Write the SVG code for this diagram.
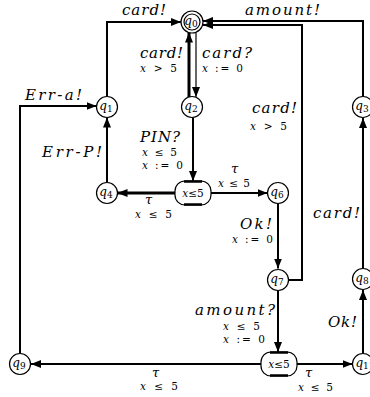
<svg xmlns="http://www.w3.org/2000/svg" width="370" height="397" viewBox="0 0 370 397">
<style>
.n{fill:#fff;stroke:#000;stroke-width:1.2}
.e{fill:none;stroke:#000;stroke-width:2}
.t{fill:none;stroke:#000;stroke-width:3}
.h{fill:none;stroke:#000;stroke-width:1.2}
.bar{stroke:#000;stroke-width:2.5}
.lbl{font-family:"DejaVu Serif",serif;font-style:italic;font-size:15px;fill:#000}
.g{font-family:"DejaVu Serif",serif;font-size:10.5px;fill:#000}
.g tspan.v{font-style:italic}
.q{font-family:"DejaVu Serif",serif;font-style:italic;font-size:12px;fill:#000;text-anchor:middle}
.q tspan{font-style:normal;font-size:9px}
.tau{font-family:"DejaVu Serif",serif;font-style:italic;font-size:13px;fill:#000}
</style>
<defs>
<marker id="a" viewBox="0 0 10 8" refX="10" refY="4" markerWidth="10" markerHeight="8" markerUnits="userSpaceOnUse" orient="auto">
<path d="M0,0 L10,4 L0,8 z" fill="#000"/>
</marker>
</defs>
<rect width="370" height="397" fill="#fff"/>
<g id="connectors">
<path class="e" d="M107,96.5 V22 H181" marker-end="url(#a)"/>
<path class="e" d="M20,353 V106 H96.5" marker-end="url(#a)"/>
<path class="e" d="M107,182.5 V117.5" marker-end="url(#a)"/>
<path class="t" d="M189,97.5 V32.5" marker-end="url(#a)"/>
<path class="h" d="M196,32.5 V97" marker-end="url(#a)"/>
<path class="e" d="M193,117.5 V181" marker-end="url(#a)"/>
<path class="t" d="M175,193 H117.5" marker-end="url(#a)"/>
<path class="e" d="M211,193 H267.5" marker-end="url(#a)"/>
<path class="e" d="M278,203.5 V268.5" marker-end="url(#a)"/>
<path class="e" d="M288.5,280 H302 V25 H203" marker-end="url(#a)"/>
<path class="e" d="M363,96.5 V21 H203" marker-end="url(#a)"/>
<path class="e" d="M278,290.5 V352" marker-end="url(#a)"/>
<path class="e" d="M261,364 H31" marker-end="url(#a)"/>
<path class="e" d="M297,364 H352.5" marker-end="url(#a)"/>
<path class="e" d="M363,353.5 V290" marker-end="url(#a)"/>
<path class="e" d="M363,268.5 V118" marker-end="url(#a)"/>
</g>
<g id="q0"><circle class="n" cx="192" cy="22" r="11"/><circle class="n" cx="192" cy="22" r="8"/><text class="q" x="191" y="25">q<tspan dy="2">0</tspan></text></g>
<g id="q1"><circle class="n" cx="107" cy="107" r="10.5"/><text class="q" x="106" y="110">q<tspan dy="2">1</tspan></text></g>
<g id="q2"><circle class="n" cx="192" cy="107" r="10.5"/><text class="q" x="191" y="110">q<tspan dy="2">2</tspan></text></g>
<g id="q3"><circle class="n" cx="363" cy="107" r="10.5"/><text class="q" x="362" y="110">q<tspan dy="2">3</tspan></text></g>
<g id="q4"><circle class="n" cx="107" cy="193" r="10.5"/><text class="q" x="106" y="196">q<tspan dy="2">4</tspan></text></g>
<g id="q5"><rect class="n" x="175" y="181" width="36" height="24" rx="10"/><line class="bar" x1="184" y1="181.5" x2="202" y2="181.5"/><line class="bar" x1="184" y1="204.5" x2="202" y2="204.5"/><text class="g" x="193" y="197" font-size="11" text-anchor="middle"><tspan class="v">x</tspan>≤5</text></g>
<g id="q6"><circle class="n" cx="278" cy="193" r="10.5"/><text class="q" x="277" y="196">q<tspan dy="2">6</tspan></text></g>
<g id="q7"><circle class="n" cx="278" cy="280" r="10.5"/><text class="q" x="277" y="283">q<tspan dy="2">7</tspan></text></g>
<g id="q8"><circle class="n" cx="363" cy="279" r="10.5"/><text class="q" x="362" y="282">q<tspan dy="2">8</tspan></text></g>
<g id="q9"><circle class="n" cx="20" cy="364" r="10.5"/><text class="q" x="19" y="367">q<tspan dy="2">9</tspan></text></g>
<g id="q10"><rect class="n" x="261" y="352" width="36" height="24" rx="10"/><line class="bar" x1="270" y1="352.5" x2="288" y2="352.5"/><line class="bar" x1="270" y1="375.5" x2="288" y2="375.5"/><text class="g" x="279" y="368" font-size="11" text-anchor="middle"><tspan class="v">x</tspan>≤5</text></g>
<g id="q11"><circle class="n" cx="363" cy="364" r="10.5"/><text class="q" x="365" y="367">q<tspan dy="2">11</tspan></text></g>
<g id="labels">
<text class="lbl" x="122" y="15" textLength="44">card!</text>
<text class="lbl" x="245" y="15" textLength="75">amount!</text>
<text class="lbl" x="140" y="58" textLength="43">card!</text>
<text class="g" x="140" y="72" textLength="37"><tspan class="v">x</tspan> &gt; 5</text>
<text class="lbl" x="202" y="58" textLength="50">card?</text>
<text class="g" x="202" y="72" textLength="41"><tspan class="v">x</tspan> := 0</text>
<text class="lbl" x="252" y="113" textLength="45">card!</text>
<text class="g" x="250" y="130" textLength="37"><tspan class="v">x</tspan> &gt; 5</text>
<text class="lbl" x="25" y="100" textLength="57">Err-a!</text>
<text class="lbl" x="42" y="157" textLength="60">Err-P!</text>
<text class="lbl" x="140" y="142" textLength="40">PIN?</text>
<text class="g" x="142" y="156" textLength="35"><tspan class="v">x</tspan> ≤ 5</text>
<text class="g" x="142" y="168.5" textLength="41"><tspan class="v">x</tspan> := 0</text>
<text class="tau" x="145" y="203.5">τ</text>
<text class="g" x="135" y="218" textLength="37"><tspan class="v">x</tspan> ≤ 5</text>
<text class="tau" x="231" y="173">τ</text>
<text class="g" x="218" y="187" textLength="32"><tspan class="v">x</tspan>≤5</text>
<text class="lbl" x="240" y="229" textLength="32">Ok!</text>
<text class="g" x="232" y="243" textLength="41"><tspan class="v">x</tspan> := 0</text>
<text class="lbl" x="313" y="218" textLength="47">card!</text>
<text class="lbl" x="195" y="315" textLength="80">amount?</text>
<text class="g" x="223" y="330" textLength="37"><tspan class="v">x</tspan> ≤ 5</text>
<text class="g" x="223" y="342.5" textLength="42"><tspan class="v">x</tspan> := 0</text>
<text class="lbl" x="328" y="327" textLength="29">Ok!</text>
<text class="tau" x="152" y="376.5">τ</text>
<text class="g" x="140" y="390" textLength="38"><tspan class="v">x</tspan> ≤ 5</text>
<text class="tau" x="305" y="376.5">τ</text>
<text class="g" x="298" y="391" textLength="35"><tspan class="v">x</tspan> ≤ 5</text>
</g>
</svg>
